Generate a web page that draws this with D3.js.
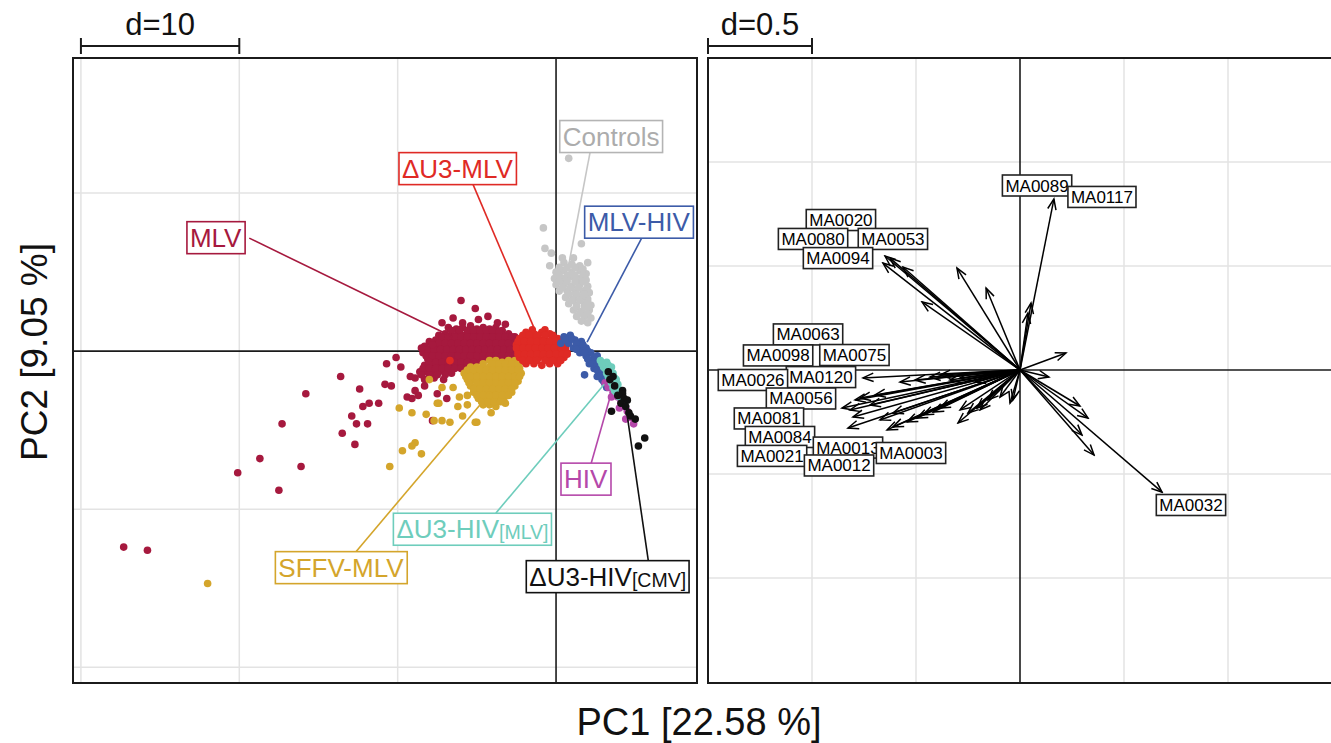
<!DOCTYPE html>
<html>
<head>
<meta charset="utf-8">
<script src="https://cdn.jsdelivr.net/npm/d3@7"></script>
<style>
  body { margin: 0; background: #fff; }
  text { font-family: "Liberation Sans", Arial, sans-serif; }
</style>
</head>
<body>
<svg id="chart" width="1331" height="743"></svg>
<script>
/*
  PCA of integration site samples (left) and motif loadings (right)
*/

// ---- scatter groups, [PC1, PC2] ----
var ptsControls = [
  [0.8,12.2],[-0.8,7.8],[1.6,6.8],[-0.7,6.5],[-0.3,6.2],[-0.4,5.4],[0.4,5.9],[1.1,5.9],[2.0,5.6],[0.1,5.0],
  [0.5,5.6],[1.0,5.5],[1.5,5.4],
  [0.0,5.0],[0.5,5.1],[1.0,5.0],[1.5,5.1],[1.9,4.9],
  [-0.1,4.6],[0.4,4.6],[0.9,4.7],[1.4,4.6],[1.9,4.5],
  [0.0,4.2],[0.5,4.2],[1.0,4.1],[1.5,4.2],[2.0,4.1],
  [0.2,3.8],[0.7,3.8],[1.2,3.7],[1.7,3.8],[2.1,3.7],
  [0.6,3.4],[1.1,3.3],[1.6,3.4],[2.0,3.3],
  [0.8,3.0],[1.3,2.9],[1.8,3.0],[2.2,2.9],
  [1.1,2.6],[1.6,2.5],[2.1,2.6],
  [1.3,2.2],[1.8,2.2],[2.2,2.1],
  [1.6,1.9],[2.0,1.8],
  [0.2,5.3],[0.7,5.3],[1.2,5.3],[1.7,5.2],
  [0.2,4.8],[0.7,4.8],[1.2,4.8],[1.7,4.8],
  [0.2,4.4],[0.7,4.4],[1.2,4.4],[1.7,4.4],
  [0.4,4.0],[0.9,4.0],[1.4,4.0],[1.9,3.9],
  [0.8,3.6],[1.3,3.6],[1.8,3.6],
  [1.0,3.2],[1.5,3.2],[2.0,3.1],
  [1.3,2.8],[1.8,2.8],
  [1.5,2.4],[2.0,2.4]
];

var ptsMLV = [
  [-6.0,3.2],[-5.1,2.7],[-7.2,1.8],[-5.9,1.8],[-4.9,2.0],[-3.7,1.8],[-3.2,1.7],[-6.5,2.1],[-4.3,2.2],
  [-6.8,1.5],[-6.3,1.4],[-5.9,1.5],[-5.4,1.6],[-5.0,1.4],[-4.6,1.5],[-4.2,1.4],[-3.8,1.5],[-3.4,1.3],
  [-7.4,1.0],[-7.0,1.1],[-6.6,1.0],[-6.2,1.1],[-5.8,1.0],[-5.4,1.1],[-5.0,1.0],[-4.6,1.1],[-4.2,1.0],[-3.8,1.1],[-3.4,1.0],[-3.0,1.1],[-2.6,0.9],
  [-8.0,0.6],[-7.6,0.7],[-7.2,0.7],[-6.8,0.6],[-6.4,0.7],[-6.0,0.7],[-5.6,0.6],[-5.2,0.7],[-4.8,0.7],[-4.4,0.6],[-4.0,0.7],[-3.6,0.7],[-3.2,0.6],[-2.8,0.7],[-2.4,0.6],
  [-8.3,0.3],[-7.9,0.2],[-7.5,0.3],[-7.1,0.3],[-6.7,0.2],[-6.3,0.3],[-5.9,0.3],[-5.5,0.2],[-5.1,0.3],[-4.7,0.3],[-4.3,0.2],[-3.9,0.3],[-3.5,0.3],[-3.1,0.2],[-2.7,0.3],[-2.3,0.2],
  [-8.4,-0.1],[-8.0,-0.1],[-7.6,-0.2],[-7.2,-0.1],[-6.8,-0.1],[-6.4,-0.2],[-6.0,-0.1],[-5.6,-0.1],[-5.2,-0.2],[-4.8,-0.1],[-4.4,-0.1],[-4.0,-0.2],[-3.6,-0.1],[-3.2,-0.1],[-2.8,-0.2],[-2.4,-0.1],
  [-8.1,-0.5],[-7.7,-0.5],[-7.3,-0.6],[-6.9,-0.5],[-6.5,-0.5],[-6.1,-0.6],[-5.7,-0.5],[-5.3,-0.5],[-4.9,-0.6],[-4.5,-0.5],[-4.1,-0.5],[-3.7,-0.6],[-3.3,-0.5],[-2.9,-0.5],
  [-8.3,-0.9],[-7.9,-0.9],[-7.5,-1.0],[-7.1,-0.9],[-6.7,-0.9],[-6.3,-1.0],[-5.9,-0.9],[-5.5,-0.9],[-5.1,-1.0],
  [-8.6,-1.3],[-8.2,-1.3],[-7.8,-1.4],[-7.4,-1.3],[-7.0,-1.3],[-6.6,-1.4],
  [-8.9,-1.7],[-8.3,-1.8],[-7.7,-1.7],[-7.1,-1.8],
  [-6.6,1.3],[-6.1,1.3],[-5.6,1.3],[-5.2,1.3],[-4.8,1.3],[-4.4,1.3],[-4.0,1.3],[-3.6,1.2],
  [-7.2,0.9],[-6.8,0.9],[-6.4,0.9],[-6.0,0.9],[-5.6,0.9],[-5.2,0.9],[-4.8,0.9],[-4.4,0.9],[-4.0,0.9],[-3.6,0.9],[-3.2,0.9],[-2.8,0.9],
  [-7.8,0.5],[-7.4,0.5],[-7.0,0.5],[-6.6,0.5],[-6.2,0.5],[-5.8,0.5],[-5.4,0.5],[-5.0,0.5],[-4.6,0.5],[-4.2,0.5],[-3.8,0.5],[-3.4,0.5],[-3.0,0.5],[-2.6,0.5],
  [-8.1,0.1],[-7.7,0.1],[-7.3,0.1],[-6.9,0.1],[-6.5,0.1],[-6.1,0.1],[-5.7,0.1],[-5.3,0.1],[-4.9,0.1],[-4.5,0.1],[-4.1,0.1],[-3.7,0.1],[-3.3,0.1],[-2.9,0.1],[-2.5,0.1],
  [-8.2,-0.3],[-7.8,-0.3],[-7.4,-0.3],[-7.0,-0.3],[-6.6,-0.3],[-6.2,-0.3],[-5.8,-0.3],[-5.4,-0.3],[-5.0,-0.3],[-4.6,-0.3],[-4.2,-0.3],[-3.8,-0.3],[-3.4,-0.3],[-3.0,-0.3],[-2.6,-0.3],
  [-8.0,-0.7],[-7.6,-0.7],[-7.2,-0.7],[-6.8,-0.7],[-6.4,-0.7],[-6.0,-0.7],[-5.6,-0.7],[-5.2,-0.7],
  [-8.4,-1.1],[-8.0,-1.1],[-7.6,-1.1],[-7.2,-1.1],[-6.8,-1.1],[-6.4,-1.1],[-6.0,-1.1],
  [-8.5,-1.5],[-8.0,-1.5],[-7.5,-1.5],[-7.0,-1.5],
  [-7.8,0.4],[-8.5,0.2],[-10.1,-0.4],[-10.7,-0.8],[-9.8,-1.0],[-9.2,-1.6],[-13.6,-1.6],[-15.8,-2.7],[-12.4,-2.4],
  [-10.8,-2.1],[-10.4,-2.2],[-8.9,-2.5],[-9.4,-2.9],[-9.1,-3.0],[-7.5,-2.7],[-6.9,-3.0],[-11.8,-3.3],[-12.2,-3.5],
  [-11.2,-3.3],[-12.9,-4.1],[-12.6,-4.6],[-11.9,-4.6],[-17.3,-4.6],[-13.5,-5.2],[-12.7,-5.9],[-18.7,-6.8],[-20.1,-7.7],
  [-16.1,-7.3],[-17.5,-8.8],[-27.3,-12.4],[-25.8,-12.6],[-7.8,-4.4],[-8.3,-2.2],[-8.7,-2.8]
];

var ptsSFFV = [
  [-4.2,-0.6],[-3.8,-0.6],[-3.4,-0.7],[-3.0,-0.6],[-2.6,-0.6],[-2.3,-0.7],
  [-5.4,-1.0],[-5.0,-1.0],[-4.6,-1.1],[-4.2,-1.0],[-3.8,-1.0],[-3.4,-1.1],[-3.0,-1.0],[-2.6,-1.0],[-2.3,-1.1],
  [-5.8,-1.4],[-5.4,-1.4],[-5.0,-1.5],[-4.6,-1.4],[-4.2,-1.4],[-3.8,-1.5],[-3.4,-1.4],[-3.0,-1.4],[-2.6,-1.5],[-2.2,-1.4],
  [-5.6,-1.8],[-5.2,-1.8],[-4.8,-1.9],[-4.4,-1.8],[-4.0,-1.8],[-3.6,-1.9],[-3.2,-1.8],[-2.8,-1.8],[-2.4,-1.9],
  [-5.4,-2.2],[-5.0,-2.2],[-4.6,-2.3],[-4.2,-2.2],[-3.8,-2.2],[-3.4,-2.3],[-3.0,-2.2],[-2.6,-2.2],
  [-5.2,-2.6],[-4.8,-2.6],[-4.4,-2.7],[-4.0,-2.6],[-3.6,-2.6],[-3.2,-2.7],[-2.8,-2.6],
  [-4.9,-3.0],[-4.5,-3.0],[-4.1,-3.1],[-3.7,-3.0],[-3.3,-3.0],
  [-4.6,-3.4],[-4.2,-3.4],[-3.8,-3.5],[-3.2,-3.3],
  [-4.6,-0.8],[-4.0,-0.8],[-3.6,-0.8],[-3.2,-0.8],[-2.8,-0.8],[-2.4,-0.8],
  [-5.6,-1.2],[-5.2,-1.2],[-4.8,-1.2],[-4.4,-1.2],[-4.0,-1.2],[-3.6,-1.2],[-3.2,-1.2],[-2.8,-1.2],[-2.4,-1.2],
  [-5.7,-1.6],[-5.4,-1.6],[-5.0,-1.6],[-4.6,-1.6],[-4.2,-1.6],[-3.8,-1.6],[-3.4,-1.6],[-3.0,-1.6],[-2.6,-1.6],[-2.3,-1.6],
  [-5.5,-2.0],[-5.0,-2.0],[-4.6,-2.0],[-4.2,-2.0],[-3.8,-2.0],[-3.4,-2.0],[-3.0,-2.0],[-2.6,-2.0],
  [-5.2,-2.4],[-4.8,-2.4],[-4.4,-2.4],[-4.0,-2.4],[-3.6,-2.4],[-3.2,-2.4],[-2.8,-2.4],
  [-5.0,-2.8],[-4.6,-2.8],[-4.2,-2.8],[-3.8,-2.8],[-3.4,-2.8],[-3.0,-2.8],
  [-4.7,-3.2],[-4.3,-3.2],[-3.9,-3.2],[-3.5,-3.2],
  [-9.9,-3.6],[-9.1,-3.9],[-8.2,-4.0],[-7.7,-4.4],[-7.2,-4.4],[-6.7,-4.5],[-7.5,-3.3],[-6.2,-3.5],[-5.6,-3.4],
  [-5.9,-4.1],[-5.1,-4.5],[-4.1,-3.9],[-8.9,-5.8],[-9.1,-6.0],[-9.7,-6.3],[-8.5,-6.5],[-10.5,-7.3],[-22.0,-14.7],
  [-8.0,-1.8],[-7.2,-2.3],[-6.5,-2.3],[-6.1,-2.9],[-5.6,-2.8],[-7.4,-3.3],[-5.0,-4.5]
];

var ptsDU3MLV = [
  [-1.5,1.35],[-0.7,1.35],
  [-1.9,1.2],[-1.4,1.1],[-0.9,1.2],[-0.4,1.1],
  [-2.3,0.8],[-1.9,0.8],[-1.5,0.7],[-1.1,0.8],[-0.7,0.8],[-0.3,0.7],[0.1,0.8],
  [-2.5,0.4],[-2.1,0.4],[-1.7,0.3],[-1.3,0.4],[-0.9,0.4],[-0.5,0.3],[-0.1,0.4],[0.3,0.4],[0.6,0.3],
  [-2.4,0.0],[-2.0,0.0],[-1.6,-0.1],[-1.2,0.0],[-0.8,0.0],[-0.4,-0.1],[0.0,0.0],[0.4,0.0],[0.7,-0.1],
  [-2.3,-0.4],[-1.9,-0.4],[-1.5,-0.5],[-1.1,-0.4],[-0.7,-0.4],[-0.3,-0.5],[0.1,-0.4],[0.5,-0.4],
  [-1.9,-0.8],[-1.4,-0.8],[-0.9,-0.9],[-0.4,-0.8],[0.1,-0.8],
  [-2.1,1.0],[-1.7,1.0],[-1.2,1.0],[-0.7,1.0],[-0.2,1.0],
  [-2.4,0.6],[-2.0,0.6],[-1.6,0.6],[-1.2,0.6],[-0.8,0.6],[-0.4,0.6],[0.0,0.6],[0.4,0.6],
  [-2.5,0.2],[-2.1,0.2],[-1.7,0.2],[-1.3,0.2],[-0.9,0.2],[-0.5,0.2],[-0.1,0.2],[0.3,0.2],[0.6,0.2],
  [-2.4,-0.2],[-2.0,-0.2],[-1.6,-0.2],[-1.2,-0.2],[-0.8,-0.2],[-0.4,-0.2],[0.0,-0.2],[0.4,-0.2],[0.7,-0.2],
  [-2.1,-0.6],[-1.7,-0.6],[-1.2,-0.6],[-0.7,-0.6],[-0.2,-0.6],[0.3,-0.6],
  [-6.7,-0.6]
];

var ptsMLVHIV = [
  [0.5,0.9],[0.9,1.0],[1.2,0.7],[0.8,0.5],[0.3,0.5],[1.6,0.6],[1.5,0.3],[1.1,0.2],[1.9,0.2],[1.5,-0.1],
  [2.2,-0.1],[1.9,-0.3],[2.6,-0.3],[2.2,-0.6],[2.5,-0.5],[2.1,-0.8],[2.8,-0.8],[2.4,-1.1],[3.0,-1.1],
  [2.7,-1.4],[3.2,-1.5],[2.9,-1.8],[3.4,-1.8],[3.1,-2.1],[3.2,-2.3],[1.8,-1.5],[2.6,-1.6],
  [0.6,0.7],[1.0,0.8],[1.3,0.5],[1.7,0.4],[1.3,0.1],[1.7,0.0],[2.0,0.0],[1.8,-0.1],[2.4,-0.4],
  [2.0,-0.5],[2.3,-0.8],[2.6,-0.9],[2.6,-1.2],[2.9,-1.3],[2.8,-1.6],[3.0,-1.9]
];

var ptsHIV = [
  [3.1,-2.0],[3.3,-2.3],[3.6,-2.6],[3.5,-2.9],[3.9,-2.9],[4.1,-3.2],[4.0,-3.6],[4.3,-3.5],[4.5,-3.8],
  [4.7,-4.2],[4.4,-4.3],[4.9,-4.6]
];

var ptsDU3HIVMLV = [
  [2.8,-0.6],[3.0,-0.8],[3.3,-0.9],[3.1,-1.1],[3.4,-1.2],[3.2,-1.4],[3.6,-1.4],[3.4,-1.7],[3.7,-1.7],
  [3.5,-2.0],[3.8,-2.0],[3.6,-2.3],[3.9,-2.3],[3.8,-2.6],[4.0,-2.9],
  [3.0,-1.0],[3.2,-0.7],[3.5,-1.0],[3.3,-1.3],[3.5,-1.5],[3.3,-1.6],[3.6,-1.9],[3.8,-1.8],[3.7,-2.2],
  [3.9,-2.1],[3.7,-2.5],[4.0,-2.6],[2.9,-0.8]
];

var ptsDU3HIVCMV = [
  [3.3,-1.3],[3.4,-1.8],[3.6,-1.6],[3.7,-2.2],[4.2,-2.5],[4.2,-2.7],[3.9,-2.8],[4.3,-3.0],[4.5,-3.1],
  [4.1,-3.3],[4.4,-3.5],[3.5,-3.8],[4.6,-3.9],[4.7,-4.1],[5.0,-4.3],[5.6,-5.5],[5.2,-6.0]
];

// group label: [main, sub, labelPC1, labelPC2, fromPC1, fromPC2, toPC1, toPC2]
var groupLabels = [
  ["Controls", "", 3.48, 13.58, 2.15, 12.59, 0.76, 5.25],
  ["\u0394U3-MLV", "", -6.23, 11.55, -5.25, 10.57, -1.33, 1.33],
  ["MLV-HIV", "", 5.22, 8.16, 5.44, 7.22, 1.96, 0.57],
  ["MLV", "", -21.49, 7.18, -19.37, 7.15, -6.52, 0.89],
  ["SFFV-MLV", "", -13.58, -13.70, -12.66, -12.72, -4.18, -2.66],
  ["\u0394U3-HIV", "[MLV]", -5.28, -11.27, -3.80, -10.25, 3.04, -2.09],
  ["HIV", "", 1.87, -8.10, 2.22, -7.09, 3.48, -2.66],
  ["\u0394U3-HIV", "[CMV]", 3.26, -14.27, 5.82, -13.23, 4.49, -4.05]
];
var groupColors = ["#c6c6c6", "#df2a25", "#3c5ba8", "#a6193e", "#d4a52b", "#6ecdbc", "#b548aa", "#111111"];
var groupText   = ["#acacac", "#df2a25", "#3c5ba8", "#a6193e", "#d4a52b", "#6ecdbc", "#b548aa", "#111111"];

// draw order for the points
var pointLayers = [
  [ptsControls, "#c6c6c6"],
  [ptsMLV, "#a6193e"],
  [ptsSFFV, "#d4a52b"],
  [ptsDU3MLV, "#df2a25"],
  [ptsMLVHIV, "#3c5ba8"],
  [ptsHIV, "#b548aa"],
  [ptsDU3HIVMLV, "#6ecdbc"],
  [ptsDU3HIVCMV, "#111111"]
];

// ---- motif loadings, [PC1, PC2] ----
var loadings = [
  [0.163,0.822],[0.053,0.322],[0.038,0.274],
  [-0.649,0.548],[-0.659,0.514],[-0.625,0.538],[-0.563,0.495],[-0.471,0.327],
  [-0.303,0.490],[-0.163,0.394],
  [0.221,0.082],[0.139,-0.034],
  [0.288,-0.173],[0.327,-0.231],[0.298,-0.313],[0.356,-0.409],[0.683,-0.587],
  [-0.048,-0.159],[-0.096,-0.130],[-0.154,-0.144],[-0.207,-0.183],[-0.250,-0.207],[-0.298,-0.255],
  [-0.385,-0.183],[-0.418,-0.202],[-0.466,-0.216],[-0.495,-0.231],[-0.543,-0.250],[-0.611,-0.274],[-0.639,-0.288],
  [-0.755,-0.038],[-0.856,-0.183],[-0.827,-0.279],[-0.803,-0.226],[-0.769,-0.135],[-0.817,-0.192],[-0.793,-0.144],
  [-0.433,-0.034],[-0.385,-0.024],[-0.337,-0.048],[-0.288,-0.038],[-0.216,-0.058],[-0.577,-0.058],[-0.505,-0.048],
  [-0.697,-0.120],[-0.721,-0.168],[-0.288,-0.192],[-0.192,-0.192],[-0.034,-0.144],[-0.611,-0.207],[-0.673,-0.240]
];

// motif labels: [name, PC1, PC2]
var motifLabels = [
  ["MA0020", -0.861, 0.721], ["MA0053", -0.611, 0.630], ["MA0080", -0.995, 0.630], ["MA0094", -0.875, 0.538],
  ["MA0089", 0.082, 0.887], ["MA0117", 0.394, 0.832],
  ["MA0063", -1.019, 0.171], ["MA0098", -1.163, 0.070], ["MA0075", -0.796, 0.072],
  ["MA0120", -0.957, -0.034], ["MA0026", -1.284, -0.048], ["MA0056", -1.053, -0.137],
  ["MA0081", -1.207, -0.233], ["MA0084", -1.154, -0.322], ["MA0013", -0.827, -0.373],
  ["MA0003", -0.524, -0.399], ["MA0021", -1.192, -0.413], ["MA0012", -0.870, -0.459],
  ["MA0032", 0.822, -0.649]
];

// grid positions
var gridLeftX = [-30, -20, -10];
var gridLeftY = [-20, -10, 10];
var gridRightX = [-1, -0.5, 0.5, 1];
var gridRightY = [-1, -0.5, 0.5, 1];

var svg = d3.select("#chart");
var LINE = "#1b1b1b", GRID = "#e3e3e3";

var xL = d3.scaleLinear().domain([-30.5, 8.9]).range([73, 697]);
var yL = d3.scaleLinear().domain([-21.0, 18.55]).range([683, 58]);
var xR = d3.scaleLinear().domain([-1.5, 1.5]).range([708, 1332]);
var yR = d3.scaleLinear().domain([-1.5, 1.5]).range([682, 58]);

var defs = svg.append("defs");
defs.append("clipPath").attr("id", "clipL").append("rect")
  .attr("x", 73).attr("y", 58).attr("width", 624).attr("height", 625);
defs.append("clipPath").attr("id", "clipR").append("rect")
  .attr("x", 708).attr("y", 58).attr("width", 624).attr("height", 624);
defs.append("marker")
  .attr("id", "ah").attr("viewBox", "-12 -6 14 12")
  .attr("refX", 0).attr("refY", 0)
  .attr("markerWidth", 14).attr("markerHeight", 12)
  .attr("markerUnits", "userSpaceOnUse").attr("orient", "auto")
  .append("path").attr("d", "M-10.5,-4.2L0,0L-10.5,4.2")
  .attr("fill", "none").attr("stroke", "#000").attr("stroke-width", 1.5);

function drawPanel(x, y, gx, gy, clip){
  var g = svg.append("g").attr("clip-path", "url(#" + clip + ")");
  g.selectAll(".gx").data(gx).enter().append("line")
    .attr("x1", function(d){ return x(d); }).attr("x2", function(d){ return x(d); })
    .attr("y1", y.range()[0]).attr("y2", y.range()[1])
    .attr("stroke", GRID).attr("stroke-width", 1.5);
  g.selectAll(".gy").data(gy).enter().append("line")
    .attr("y1", function(d){ return y(d); }).attr("y2", function(d){ return y(d); })
    .attr("x1", x.range()[0]).attr("x2", x.range()[1])
    .attr("stroke", GRID).attr("stroke-width", 1.5);
  //zero lines
  g.append("line").attr("x1", x(0)).attr("x2", x(0)).attr("y1", y.range()[0]).attr("y2", y.range()[1])
    .attr("stroke", LINE).attr("stroke-width", 1.6);
  g.append("line").attr("y1", y(0)).attr("y2", y(0)).attr("x1", x.range()[0]).attr("x2", x.range()[1])
    .attr("stroke", LINE).attr("stroke-width", 1.6);
  return g;
}

function boxLabel(g, cx, cy, main, sub, fs, color, border, pad){
  var grp = g.append("g");
  var rect = grp.append("rect");
  var t = grp.append("text")
    .attr("x", cx).attr("y", cy)
    .attr("text-anchor", "middle").attr("dominant-baseline", "central")
    .style("font-size", fs + "px").attr("fill", color);
  t.append("tspan").text(main);
  if(sub) t.append("tspan").style("font-size", (fs * 0.75) + "px").attr("dy", 3).text(sub);
  var b = t.node().getBBox();
  rect.attr("x", b.x - pad).attr("y", b.y - 1)
    .attr("width", b.width + 2 * pad).attr("height", b.height + 2)
    .attr("fill", "#fff").attr("stroke", border).attr("stroke-width", 1.6);
}

// ---- left panel ----
var gL = drawPanel(xL, yL, gridLeftX, gridLeftY, "clipL");

pointLayers.forEach(function(layer){
  gL.append("g").selectAll("circle").data(layer[0]).enter().append("circle")
    .attr("cx", function(d){ return xL(d[0]); })
    .attr("cy", function(d){ return yL(d[1]); })
    .attr("r", 3.8)
    .attr("fill", layer[1]);
});

groupLabels.forEach(function(l, i){
  gL.append("line")
    .attr("x1", xL(l[4])).attr("y1", yL(l[5]))
    .attr("x2", xL(l[6])).attr("y2", yL(l[7]))
    .attr("stroke", groupColors[i]).attr("stroke-width", 1.6);
});
groupLabels.forEach(function(l, i){
  boxLabel(gL, xL(l[2]), yL(l[3]), l[0], l[1], 26, groupText[i], i == 0 ? "#b4b4b4" : groupColors[i], 3);
});

svg.append("rect").attr("x", 73).attr("y", 58).attr("width", 624).attr("height", 625)
  .attr("fill", "none").attr("stroke", LINE).attr("stroke-width", 2);

// ---- right panel ----
var gR = drawPanel(xR, yR, gridRightX, gridRightY, "clipR");

gR.append("g").selectAll("line").data(loadings).enter().append("line")
  .attr("x1", xR(0)).attr("y1", yR(0))
  .attr("x2", function(d){ return xR(d[0]); })
  .attr("y2", function(d){ return yR(d[1]); })
  .attr("stroke", "#000").attr("stroke-width", 1.5)
  .attr("marker-end", "url(#ah)");

motifLabels.forEach(function(m){
  boxLabel(gR, xR(m[1]), yR(m[2]), m[0], "", 17, "#000", "#222", 3);
});

svg.append("rect").attr("x", 708).attr("y", 58).attr("width", 624).attr("height", 625)
  .attr("fill", "none").attr("stroke", LINE).attr("stroke-width", 2);

// ---- scale bars ----
function scaleBar(x, a, b, label){
  var g = svg.append("g").attr("stroke", LINE).attr("stroke-width", 2);
  g.append("line").attr("x1", x(a)).attr("x2", x(b)).attr("y1", 46).attr("y2", 46);
  g.append("line").attr("x1", x(a)).attr("x2", x(a)).attr("y1", 38).attr("y2", 54);
  g.append("line").attr("x1", x(b)).attr("x2", x(b)).attr("y1", 38).attr("y2", 54);
  svg.append("text").attr("x", (x(a) + x(b)) / 2).attr("y", 35)
    .attr("text-anchor", "middle").style("font-size", "31px").attr("fill", "#111").text(label);
}
scaleBar(xL, -30, -20, "d=10");
scaleBar(xR, -1.5, -1.0, "d=0.5");

// ---- axis titles ----
svg.append("text").attr("x", 699).attr("y", 735).attr("text-anchor", "middle")
  .style("font-size", "38px").attr("fill", "#111").text("PC1 [22.58 %]");
svg.append("text").attr("transform", "translate(47,352) rotate(-90)").attr("text-anchor", "middle")
  .style("font-size", "37px").attr("fill", "#111").text("PC2 [9.05 %]");
</script>
</body>
</html>
